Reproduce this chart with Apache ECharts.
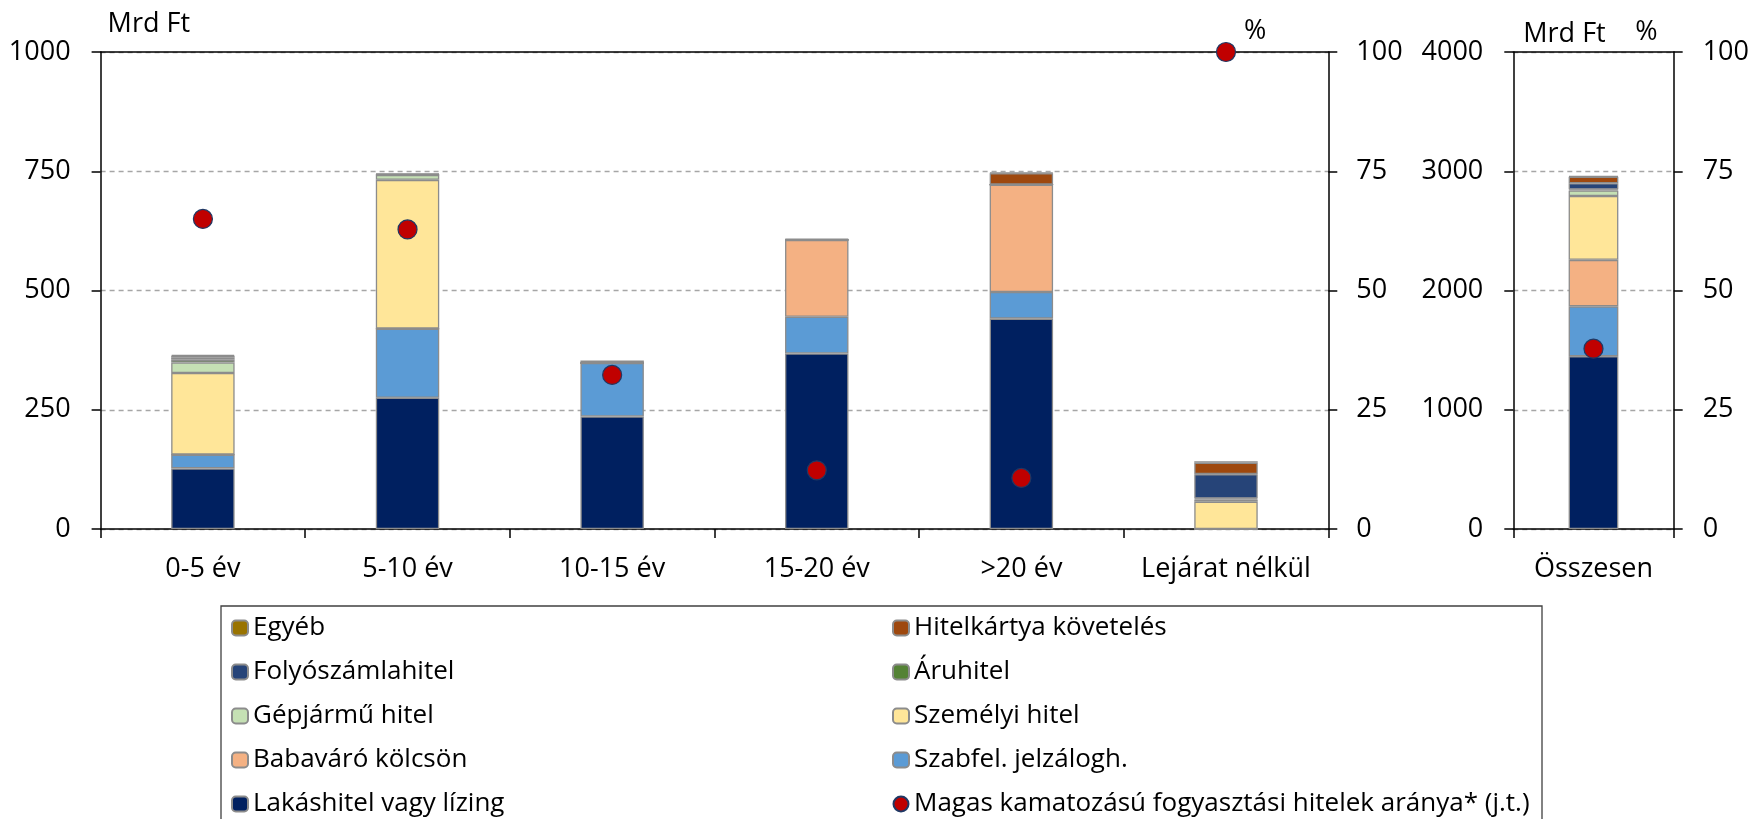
<!DOCTYPE html>
<html>
<head>
<meta charset="utf-8">
<script src="https://cdn.jsdelivr.net/npm/echarts@6/dist/echarts.min.js"></script>
<style>
html,body{margin:0;padding:0;background:#fff;}
#chart{width:1752px;height:819px;}
</style>
</head>
<body>
<div id="chart"></div>
<script>
// ---- data ----
const categories = ['0-5 év', '5-10 év', '10-15 év', '15-20 év', '>20 év', 'Lejárat nélkül'];
const totalCategory = ['Összesen'];
const lakashitel  = [127, 275, 236, 368, 441, 0];
const szabfel     = [29, 145, 112, 77, 56, 0];
const babavaro    = [0, 0, 0, 161, 225, 0];
const szemelyi    = [171, 312, 0, 0, 0, 57];
const gepjarmu    = [22, 10, 0, 0, 0, 5];
const aruhitel    = [6, 1, 0, 0, 0, 2];
const folyoszamla = [5, 0, 0, 0, 0, 51];
const hitelkartya = [3, 1, 2, 1, 24, 24];
const egyeb       = [2, 1, 3, 1, 1, 3];
const magasArany  = [65, 62.8, 32.3, 12.3, 10.7, 100];
// Összesen column
const totalLakas = [1449];
const totalSzabfel = [418];
const totalBabavaro = [390];
const totalSzemelyi = [536];
const totalGepjarmu = [46];
const totalAruhitel = [8];
const totalFolyo = [52];
const totalHitelk = [55];
const totalEgyeb = [6];
const totalArany = [37.8];

const seriesDefs = [
  {name: 'Lakáshitel vagy lízing', color: '#002060', d: lakashitel, t: totalLakas},
  {name: 'Szabfel. jelzálogh.', color: '#5B9BD5', d: szabfel, t: totalSzabfel},
  {name: 'Babaváró kölcsön', color: '#F4B183', d: babavaro, t: totalBabavaro},
  {name: 'Személyi hitel', color: '#FFE699', d: szemelyi, t: totalSzemelyi},
  {name: 'Gépjármű hitel', color: '#C5E0B4', d: gepjarmu, t: totalGepjarmu},
  {name: 'Áruhitel', color: '#548235', d: aruhitel, t: totalAruhitel},
  {name: 'Folyószámlahitel', color: '#264478', d: folyoszamla, t: totalFolyo},
  {name: 'Hitelkártya követelés', color: '#9E480E', d: hitelkartya, t: totalHitelk},
  {name: 'Egyéb', color: '#997300', d: egyeb, t: totalEgyeb}
];
const dotName = 'Magas kamatozású fogyasztási hitelek aránya* (j.t.)';

const FONT = '"Open Sans", Lato, sans-serif';
const AX = 27;
const chart = echarts.init(document.getElementById('chart'), null, {renderer: 'canvas'});

const axisLineStyle = {show: true, onZero: false, lineStyle: {color: '#000', width: 1.5}};
const tickStyle = {show: true, inside: false, length: 9, lineStyle: {color: '#000', width: 1.5}};
const labelStyle = {color: '#000', fontSize: AX, fontFamily: FONT, formatter: v => String(v)};
const catLabel = {color: '#000', fontSize: AX, fontFamily: FONT, margin: 27, interval: 0};
const nameStyle = (align, pad) => ({color: '#000', fontSize: AX, fontFamily: FONT, align: align, padding: pad});

const series = [];
seriesDefs.forEach(s => {
  const common = {
    type: 'bar', name: s.name, barWidth: '31%',
    itemStyle: {color: s.color, borderColor: '#8C8C8C', borderWidth: 1.3},
    emphasis: {disabled: true}
  };
  series.push(Object.assign({}, common, {xAxisIndex: 0, yAxisIndex: 0, stack: 'a', data: s.d}));
  series.push(Object.assign({}, common, {xAxisIndex: 2, yAxisIndex: 2, stack: 'b', data: s.t}));
});
const dotStyle = {color: '#C00000', borderColor: '#1F3864', borderWidth: 1.2, opacity: 1};
series.push({type: 'scatter', name: dotName, xAxisIndex: 0, yAxisIndex: 1, symbol: 'circle', symbolSize: 19, itemStyle: dotStyle, data: magasArany, z: 10, emphasis: {disabled: true}});
series.push({type: 'scatter', name: dotName, xAxisIndex: 2, yAxisIndex: 3, symbol: 'circle', symbolSize: 19, itemStyle: dotStyle, data: totalArany, z: 10, emphasis: {disabled: true}});

const legendText = {color: '#000', fontSize: 26, fontFamily: FONT, lineHeight: 23, padding: [0, 0, 0, 0]};

const option = {
  animation: false,
  backgroundColor: '#fff',
  grid: [
    {left: 100.6, right: 1752 - 1328.3, top: 52, bottom: 819 - 529},
    {left: 1513.3, right: 1752 - 1675, top: 52, bottom: 819 - 529}
  ],
  xAxis: [
    {type: 'category', gridIndex: 0, data: categories, position: 'bottom',
     axisLine: axisLineStyle, axisTick: Object.assign({}, tickStyle, {alignWithLabel: false, interval: 0}),
     axisLabel: catLabel, splitLine: {show: false}},
    {type: 'category', gridIndex: 0, data: categories, position: 'top',
     axisLine: axisLineStyle, axisTick: {show: false}, axisLabel: {show: false}, splitLine: {show: false}},
    {type: 'category', gridIndex: 1, data: totalCategory, position: 'bottom',
     axisLine: axisLineStyle, axisTick: Object.assign({}, tickStyle, {alignWithLabel: false, interval: 0}),
     axisLabel: catLabel, splitLine: {show: false}},
    {type: 'category', gridIndex: 1, data: totalCategory, position: 'top',
     axisLine: axisLineStyle, axisTick: {show: false}, axisLabel: {show: false}, splitLine: {show: false}}
  ],
  yAxis: [
    {type: 'value', gridIndex: 0, position: 'left', min: 0, max: 1000, interval: 250,
     name: 'Mrd Ft', nameLocation: 'end', nameGap: 14, nameTextStyle: nameStyle('left', [0, 0, 0, 7]),
     axisLine: axisLineStyle, axisTick: tickStyle, axisLabel: Object.assign({}, labelStyle, {margin: 30}),
     splitLine: {show: true, lineStyle: {color: '#A6A6A6', type: [5, 4], width: 1.3}}},
    {type: 'value', gridIndex: 0, position: 'right', min: 0, max: 100, interval: 25,
     name: '%', nameLocation: 'end', nameGap: 7, nameTextStyle: nameStyle('right', [0, 62, 0, 0]),
     axisLine: axisLineStyle, axisTick: tickStyle, axisLabel: Object.assign({}, labelStyle, {margin: 28}),
     splitLine: {show: false}},
    {type: 'value', gridIndex: 1, position: 'left', min: 0, max: 4000, interval: 1000,
     name: 'Mrd Ft', nameLocation: 'end', nameGap: 4, nameTextStyle: nameStyle('left', [0, 0, 0, 10]),
     axisLine: axisLineStyle, axisTick: tickStyle, axisLabel: Object.assign({}, labelStyle, {margin: 30}),
     splitLine: {show: true, lineStyle: {color: '#A6A6A6', type: [5, 4], width: 1.3}}},
    {type: 'value', gridIndex: 1, position: 'right', min: 0, max: 100, interval: 25,
     name: '%', nameLocation: 'end', nameGap: 6, nameTextStyle: nameStyle('right', [0, 16, 0, 0]),
     axisLine: axisLineStyle, axisTick: tickStyle, axisLabel: Object.assign({}, labelStyle, {margin: 29}),
     splitLine: {show: false}}
  ],
  legend: [
    {orient: 'vertical', left: 231, top: 615, height: 204, padding: 0, itemGap: 18, itemWidth: 16, itemHeight: 15,
     textStyle: legendText, selectedMode: false,
     data: ['Egyéb', 'Folyószámlahitel', 'Gépjármű hitel', 'Babaváró kölcsön', 'Lakáshitel vagy lízing']},
    {orient: 'vertical', left: 892, top: 615, height: 204, padding: 0, itemGap: 18, itemWidth: 16, itemHeight: 15,
     textStyle: legendText, selectedMode: false,
     data: ['Hitelkártya követelés', 'Áruhitel', 'Személyi hitel', 'Szabfel. jelzálogh.', dotName]}
  ],
  graphic: [
    {type: 'rect', shape: {x: 221, y: 606, width: 1321, height: 240}, style: {fill: 'none', stroke: '#404040', lineWidth: 1.3}, silent: true}
  ],
  series: series
};
chart.setOption(option);
</script>
</body>
</html>
